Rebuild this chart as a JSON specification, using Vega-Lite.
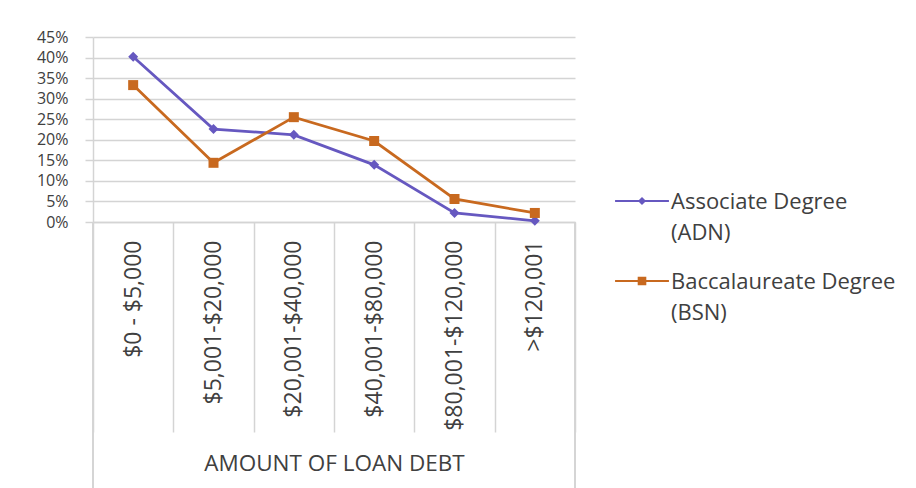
{
  "$schema": "https://vega.github.io/schema/vega-lite/v6.json",
  "autosize": {"type": "none"},
  "width": 482,
  "height": 185,
  "padding": {"left": 93, "top": 37, "right": 341, "bottom": 266},
  "background": "white",
  "config": {
    "view": {"stroke": null},
    "font": "Open Sans",
    "axis": {"labelColor": "#404040", "titleColor": "#404040", "labelFont": "Open Sans", "titleFont": "Open Sans"},
    "legend": {"labelFont": "Open Sans", "labelColor": "#404040"}
  },
  "data": {
    "values": [
      {"debt": "$0 - $5,000", "degree": "Associate Degree (ADN)", "pct": 0.402},
      {"debt": "$5,001-$20,000", "degree": "Associate Degree (ADN)", "pct": 0.226},
      {"debt": "$20,001-$40,000", "degree": "Associate Degree (ADN)", "pct": 0.212},
      {"debt": "$40,001-$80,000", "degree": "Associate Degree (ADN)", "pct": 0.139},
      {"debt": "$80,001-$120,000", "degree": "Associate Degree (ADN)", "pct": 0.022},
      {"debt": ">$120,001", "degree": "Associate Degree (ADN)", "pct": 0.003},
      {"debt": "$0 - $5,000", "degree": "Baccalaureate Degree (BSN)", "pct": 0.333},
      {"debt": "$5,001-$20,000", "degree": "Baccalaureate Degree (BSN)", "pct": 0.144},
      {"debt": "$20,001-$40,000", "degree": "Baccalaureate Degree (BSN)", "pct": 0.255},
      {"debt": "$40,001-$80,000", "degree": "Baccalaureate Degree (BSN)", "pct": 0.197},
      {"debt": "$80,001-$120,000", "degree": "Baccalaureate Degree (BSN)", "pct": 0.056},
      {"debt": ">$120,001", "degree": "Baccalaureate Degree (BSN)", "pct": 0.022}
    ]
  },
  "encoding": {
    "x": {
      "field": "debt", "type": "nominal", "sort": null,
      "scale": {"type": "band", "paddingInner": 0, "paddingOuter": 0},
      "axis": {
        "title": "AMOUNT OF LOAN DEBT", "titleFontSize": 22.5, "titleFontWeight": "normal", "titlePadding": 30,
        "labelAngle": -90, "labelFontSize": 23, "labelPadding": -192, "labelLimit": 300,
        "tickBand": "extent", "tickSize": 210, "tickColor": "#d4d4d4", "tickWidth": 1.5,
        "domainColor": "#d4d4d4", "domainWidth": 1.5, "grid": false
      }
    },
    "y": {
      "field": "pct", "type": "quantitative",
      "scale": {"domain": [0, 0.45]},
      "axis": {
        "title": null, "format": ".0%", "values": [0, 0.05, 0.1, 0.15, 0.2, 0.25, 0.3, 0.35, 0.4, 0.45],
        "labelFontSize": 16, "labelPadding": 17, "tickSize": 8, "tickColor": "#d4d4d4", "tickWidth": 1.5,
        "gridColor": "#d4d4d4", "gridWidth": 1.5, "domainColor": "#d4d4d4", "domainWidth": 1.5
      }
    },
    "color": {
      "field": "degree", "type": "nominal",
      "scale": {"domain": ["Associate Degree (ADN)", "Baccalaureate Degree (BSN)"], "range": ["#6658C0", "#C8691F"]},
      "legend": {
        "title": null, "orient": "none", "legendX": 522, "legendY": 137,
        "padding": 0, "symbolSize": 2900, "labelFontSize": 22, "labelOffset": 2, "rowPadding": 10, "labelLimit": 400,
        "symbolType": "M-1,-0.04L1,-0.04L1,0.04L-1,0.04Z M-0.16,-0.16L0.16,-0.16L0.16,0.16L-0.16,0.16Z",
        "labelExpr": "[slice(datum.label, 0, indexof(datum.label, ' (')), slice(datum.label, indexof(datum.label, ' (') + 1)]",
        "encode": {
          "symbols": {"update": {
            "shape": {"signal": "datum.value === 'Associate Degree (ADN)' ? 'M-1,-0.04L1,-0.04L1,0.04L-1,0.04Z M0,-0.15L0.15,0L0,0.15L-0.15,0Z' : 'M-1,-0.04L1,-0.04L1,0.04L-1,0.04Z M-0.16,-0.16L0.16,-0.16L0.16,0.16L-0.16,0.16Z'"},
            "fill": {"signal": "datum.value === 'Associate Degree (ADN)' ? '#6658C0' : '#C8691F'"},
            "fillOpacity": {"value": 1},
            "strokeWidth": {"value": 0}
          }},
          "labels": {"update": {"lineHeight": {"value": 31}, "dy": {"value": 1}}}
        }
      }
    }
  },
  "layer": [
    {"mark": {"type": "line", "strokeWidth": 2.75}, "encoding": {"x": {"field": "debt", "type": "nominal", "sort": null, "bandPosition": 0.5}}},
    {"transform": [{"filter": "datum.degree === 'Associate Degree (ADN)'"}],
     "mark": {"type": "point", "filled": true, "opacity": 1, "shape": "diamond", "size": 100},
     "encoding": {"x": {"field": "debt", "type": "nominal", "sort": null, "bandPosition": 0.5}}},
    {"transform": [{"filter": "datum.degree === 'Baccalaureate Degree (BSN)'"}],
     "mark": {"type": "point", "filled": true, "opacity": 1, "shape": "square", "size": 100},
     "encoding": {"x": {"field": "debt", "type": "nominal", "sort": null, "bandPosition": 0.5}}},
    {"mark": {"type": "rule", "color": "#d4d4d4", "strokeWidth": 1.5},
     "encoding": {"x": {"datum": "$0 - $5,000", "bandPosition": 0}, "y": {"datum": 0}, "y2": {"datum": -0.66}, "color": {"value": "#d4d4d4"}}},
    {"mark": {"type": "rule", "color": "#d4d4d4", "strokeWidth": 1.5},
     "encoding": {"x": {"datum": ">$120,001", "bandPosition": 1}, "y": {"datum": 0}, "y2": {"datum": -0.66}, "color": {"value": "#d4d4d4"}}}
  ]
}
